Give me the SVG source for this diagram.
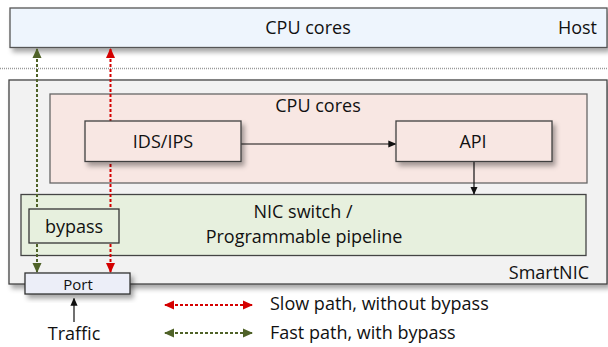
<svg xmlns="http://www.w3.org/2000/svg" width="608" height="347" viewBox="0 0 608 347">
<style>
text{font-family:"Open Sans","Liberation Sans",sans-serif;font-size:18px;fill:#111}
.c{text-anchor:middle}
.e{text-anchor:end}
.box{stroke-width:1.3}
.red{stroke:#d40000;stroke-width:2;stroke-dasharray:3 2;fill:none}
.grn{stroke:#4f6228;stroke-width:2;stroke-dasharray:3 2;fill:none}
.blk{stroke:#111;stroke-width:1.2;fill:none}
</style>
<defs>
<filter id="sh" x="-10%" y="-20%" width="130%" height="160%">
<feDropShadow dx="3" dy="4" stdDeviation="2.5" flood-color="#000" flood-opacity="0.35"/>
</filter>
<marker id="ar" markerUnits="userSpaceOnUse" markerWidth="10" markerHeight="10" viewBox="0 0 10 10" refX="9" refY="5" orient="auto-start-reverse">
<path d="M0,0.5 L10,5 L0,9.5 z" fill="#d40000"/>
</marker>
<marker id="ag" markerUnits="userSpaceOnUse" markerWidth="10" markerHeight="10" viewBox="0 0 10 10" refX="9" refY="5" orient="auto-start-reverse">
<path d="M0,0.5 L10,5 L0,9.5 z" fill="#4f6228"/>
</marker>
<marker id="ab" markerUnits="userSpaceOnUse" markerWidth="8" markerHeight="8" viewBox="0 0 10 10" refX="9" refY="5" orient="auto">
<path d="M0,0.5 L10,5 L0,9.5 z" fill="#111"/>
</marker>
</defs>

<g id="host">
<rect class="box" x="10" y="8" width="597" height="39.5" fill="#eef5fd" stroke="#555" filter="url(#sh)"/>
<text class="c" x="308" y="34">CPU cores</text>
<text class="e" x="597" y="34">Host</text>
</g>

<line x1="0" y1="68.5" x2="608" y2="68.5" stroke="#999" stroke-width="1.5" stroke-dasharray="1 1"/>

<g id="smartnic">
<rect class="box" x="9" y="80" width="598" height="204" fill="#f2f2f2" stroke="#444" filter="url(#sh)"/>
<text class="e" x="589" y="279">SmartNIC</text>
</g>

<g id="cpu-cores">
<rect class="box" x="50" y="94" width="537" height="89" fill="#f8e7e3" stroke="#666"/>
<text class="c" x="318" y="112">CPU cores</text>
</g>

<g id="nic-switch">
<rect class="box" x="21" y="194.5" width="565" height="61" fill="#e7f0de" stroke="#444"/>
<text class="c" x="303" y="218">NIC switch /</text>
<text class="c" x="304" y="243">Programmable pipeline</text>
</g>

<g id="connectors">
<line class="grn" x1="37" y1="272" x2="37" y2="49" marker-start="url(#ag)" marker-end="url(#ag)"/>
<line class="red" x1="110.5" y1="272" x2="110.5" y2="49" marker-start="url(#ar)" marker-end="url(#ar)"/>
<line class="blk" x1="241" y1="144" x2="395.5" y2="144" marker-end="url(#ab)"/>
<line class="blk" x1="474" y1="162" x2="474" y2="194" marker-end="url(#ab)"/>
<line class="blk" x1="74" y1="322" x2="74" y2="298.5" stroke="#333" marker-end="url(#ab)"/>
<line class="red" x1="165" y1="305" x2="252" y2="305" marker-start="url(#ar)" marker-end="url(#ar)"/>
<line class="grn" x1="165" y1="333" x2="252" y2="333" marker-start="url(#ag)" marker-end="url(#ag)"/>
</g>

<g id="ids-ips">
<rect class="box" x="85" y="121" width="156" height="40.5" fill="#f8e7e3" stroke="#404040" filter="url(#sh)"/>
<text class="c" x="163" y="148">IDS/IPS</text>
</g>

<g id="api">
<rect class="box" x="396" y="121" width="156" height="40.5" fill="#f8e7e3" stroke="#404040" filter="url(#sh)"/>
<text class="c" x="473" y="148">API</text>
</g>

<g id="bypass">
<rect class="box" x="29" y="209" width="90" height="34" fill="#e7f0de" stroke="#333"/>
<text class="c" x="74" y="233">bypass</text>
</g>

<g id="port">
<rect class="box" x="25" y="273" width="105" height="21" fill="#eceef8" stroke="#333" filter="url(#sh)"/>
<text class="c" x="78" y="290" style="font-size:15px">Port</text>
</g>

<g id="traffic">
<text class="c" x="74" y="340">Traffic</text>
</g>

<g id="legend">
<text x="270" y="310">Slow path, without bypass</text>
<text x="270" y="339">Fast path, with bypass</text>
</g>
</svg>
